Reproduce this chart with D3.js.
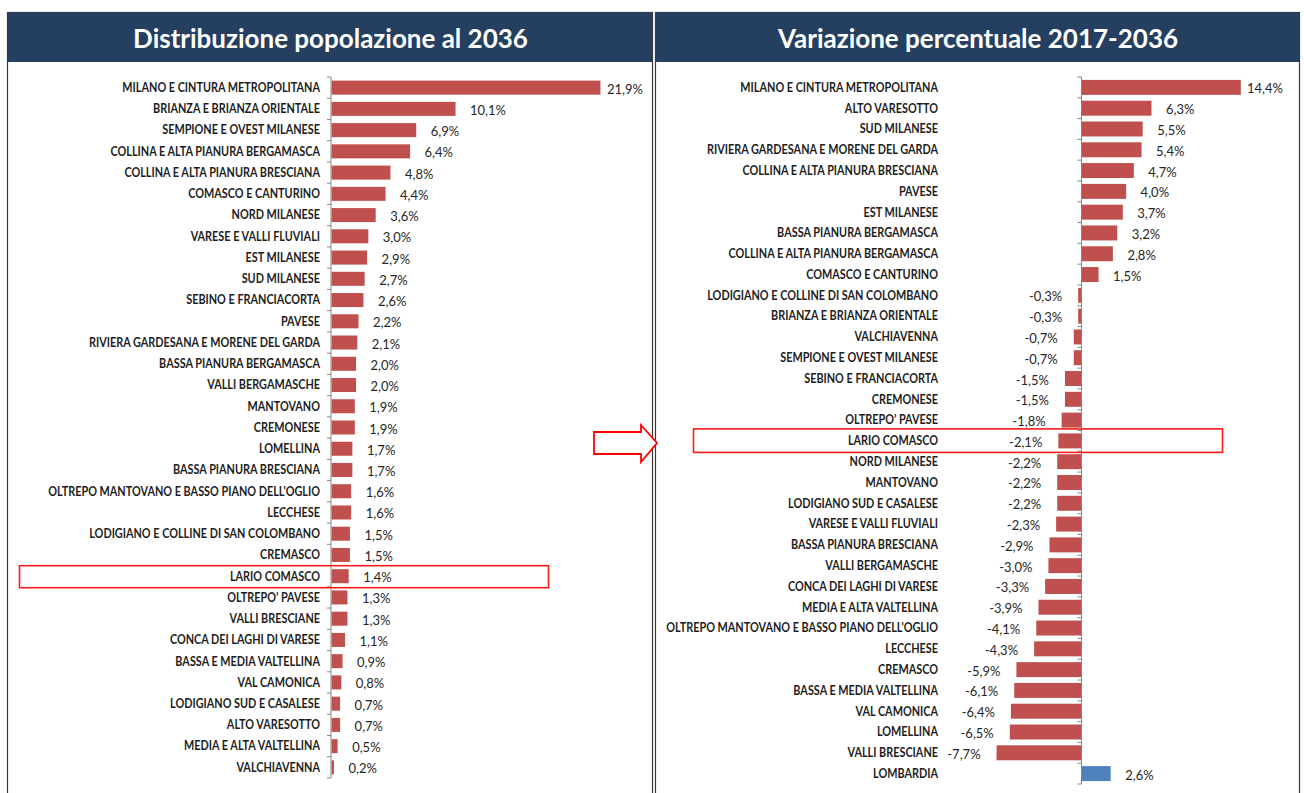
<!DOCTYPE html>
<html>
<head>
<meta charset="utf-8">
<script src="https://cdn.jsdelivr.net/npm/d3@7"></script>
<style>
  body { margin: 0; background: #fff; }
  svg { display: block; }
</style>
</head>
<body>
<svg id="chart" width="1304" height="793"></svg>
<script>
// ---- data -------------------------------------------------------------
const distTitle = "Distribuzione popolazione al 2036";
const varTitle = "Variazione percentuale 2017-2036";

const distCategories = [
  "MILANO E CINTURA METROPOLITANA", "BRIANZA E BRIANZA ORIENTALE", "SEMPIONE E OVEST MILANESE",
  "COLLINA E ALTA PIANURA BERGAMASCA", "COLLINA E ALTA PIANURA BRESCIANA", "COMASCO E CANTURINO",
  "NORD MILANESE", "VARESE E VALLI FLUVIALI", "EST MILANESE", "SUD MILANESE",
  "SEBINO E FRANCIACORTA", "PAVESE", "RIVIERA GARDESANA E MORENE DEL GARDA",
  "BASSA PIANURA BERGAMASCA", "VALLI BERGAMASCHE", "MANTOVANO", "CREMONESE", "LOMELLINA",
  "BASSA PIANURA BRESCIANA", "OLTREPO MANTOVANO E BASSO PIANO DELL'OGLIO", "LECCHESE",
  "LODIGIANO E COLLINE DI SAN COLOMBANO", "CREMASCO", "LARIO COMASCO", "OLTREPO\u2019 PAVESE",
  "VALLI BRESCIANE", "CONCA DEI LAGHI DI VARESE", "BASSA E MEDIA VALTELLINA", "VAL CAMONICA",
  "LODIGIANO SUD E CASALESE", "ALTO VARESOTTO", "MEDIA E ALTA VALTELLINA", "VALCHIAVENNA"
];
const distValues = [
  21.9, 10.1, 6.9, 6.4, 4.8, 4.4, 3.6, 3.0, 2.9, 2.7,
  2.6, 2.2, 2.1, 2.0, 2.0, 1.9, 1.9, 1.7, 1.7, 1.6,
  1.6, 1.5, 1.5, 1.4, 1.3, 1.3, 1.1, 0.9, 0.8, 0.7,
  0.7, 0.5, 0.2
];

const varCategories = [
  "MILANO E CINTURA METROPOLITANA", "ALTO VARESOTTO", "SUD MILANESE",
  "RIVIERA GARDESANA E MORENE DEL GARDA", "COLLINA E ALTA PIANURA BRESCIANA", "PAVESE",
  "EST MILANESE", "BASSA PIANURA BERGAMASCA", "COLLINA E ALTA PIANURA BERGAMASCA",
  "COMASCO E CANTURINO", "LODIGIANO E COLLINE DI SAN COLOMBANO", "BRIANZA E BRIANZA ORIENTALE",
  "VALCHIAVENNA", "SEMPIONE E OVEST MILANESE", "SEBINO E FRANCIACORTA", "CREMONESE",
  "OLTREPO\u2019 PAVESE", "LARIO COMASCO", "NORD MILANESE", "MANTOVANO",
  "LODIGIANO SUD E CASALESE", "VARESE E VALLI FLUVIALI", "BASSA PIANURA BRESCIANA",
  "VALLI BERGAMASCHE", "CONCA DEI LAGHI DI VARESE", "MEDIA E ALTA VALTELLINA",
  "OLTREPO MANTOVANO E BASSO PIANO DELL'OGLIO", "LECCHESE", "CREMASCO",
  "BASSA E MEDIA VALTELLINA", "VAL CAMONICA", "LOMELLINA", "VALLI BRESCIANE", "LOMBARDIA"
];
const varValues = [
  14.4, 6.3, 5.5, 5.4, 4.7, 4.0, 3.7, 3.2, 2.8, 1.5,
  -0.3, -0.3, -0.7, -0.7, -1.5, -1.5, -1.8, -2.1, -2.2, -2.2,
  -2.2, -2.3, -2.9, -3.0, -3.3, -3.9, -4.1, -4.3, -5.9, -6.1,
  -6.4, -6.5, -7.7, 2.6
];

const highlightCategory = "LARIO COMASCO";
const totalCategory = "LOMBARDIA";

// ---- styling ----------------------------------------------------------
const RED = "#c0504d";
const BLUE = "#4f81bd";
const NAVY = "#243f60";
const FONT = "Lato, 'Open Sans', 'Liberation Sans', sans-serif";

const it = d3.formatLocale({decimal: ",", thousands: ".", grouping: [3], currency: ["", "€"], minus: "-"});
const fmtPct = v => it.format(".1f")(v) + "%";

const svg = d3.select("#chart");

// font size that makes a reference string span a given width
function fitSize(text, weight, target) {
  const t = svg.append("text").attr("font-family", FONT).attr("font-weight", weight)
    .attr("font-size", 20).text(text);
  const w = t.node().getComputedTextLength();
  t.remove();
  return 20 * target / w;
}
// labels are set slightly taller, then narrowed back to their width
const CAT_STRETCH = 1.14;
const VAL_STRETCH = 1.1;
const catSize = fitSize("MILANO E CINTURA METROPOLITANA", 700, 198) * CAT_STRETCH;
const valSize = fitSize("10,1%", 400, 36) * VAL_STRETCH;
const titleSize = fitSize(distTitle, 700, 395);

function condense(sel, k) {
  sel.each(function () {
    const w = this.getComputedTextLength();
    d3.select(this).attr("textLength", w / k).attr("lengthAdjust", "spacingAndGlyphs");
  });
}

// ---- panels -----------------------------------------------------------
const panels = [
  {x0: 7, x1: 652, title: distTitle},
  {x0: 655, x1: 1299, title: varTitle}
];
panels.forEach(p => {
  svg.append("rect").attr("x", p.x0 + 0.5).attr("y", 12.5)
    .attr("width", p.x1 - p.x0).attr("height", 800)
    .attr("fill", "#fff").attr("stroke", "#3a3a3a").attr("stroke-width", 1.2);
  svg.append("rect").attr("x", p.x0 + 0.5).attr("y", 12.5)
    .attr("width", p.x1 - p.x0).attr("height", 49.5).attr("fill", NAVY);
  svg.append("text").attr("x", (p.x0 + p.x1) / 2 + 1).attr("y", 47.5)
    .attr("text-anchor", "middle").attr("font-family", FONT).attr("font-weight", 700)
    .attr("font-size", titleSize).attr("fill", "#fff").text(p.title);
});

// ---- left chart: distribution 2036 ------------------------------------
const xL = d3.scaleLinear().domain([0, 25]).range([331, 331 + 25 * 12.28]);
const yL = d3.scaleBand().domain(distCategories).range([77, 778]).paddingInner(0.34).paddingOuter(0.17);

// ---- right chart: percentage change -----------------------------------
const xR = d3.scaleLinear().domain([-10, 16]).range([1081.5 - 10 * 11.03, 1081.5 + 16 * 11.03]);
const yR = d3.scaleBand().domain(varCategories).range([77, 784]).paddingInner(0.28).paddingOuter(0.14);

function drawBars(g, cats, vals, x, y, opts) {
  const data = cats.map((c, i) => ({c, v: vals[i]}));
  const zero = x(0);

  g.selectAll("rect.bar").data(data).join("rect").attr("class", "bar")
    .attr("x", d => Math.min(x(d.v), zero) + (d.v >= 0 ? 0.5 : 0))
    .attr("y", d => y(d.c))
    .attr("width", d => Math.abs(x(d.v) - zero))
    .attr("height", y.bandwidth())
    .attr("fill", d => d.c === totalCategory ? BLUE : RED);

  // category axis: line with tick marks between categories
  const [r0, r1] = y.range();
  const step = y.step();
  g.append("line").attr("x1", zero).attr("x2", zero).attr("y1", r0).attr("y2", r1)
    .attr("stroke", "#868686").attr("stroke-width", 1);
  const n = cats.length;
  const off = y.paddingOuter() * step - (step - y.bandwidth()) / 2;
  g.selectAll("line.tick").data(d3.range(n + 1)).join("line").attr("class", "tick")
    .attr("x1", zero - 4).attr("x2", zero)
    .attr("y1", i => r0 + i * step + off).attr("y2", i => r0 + i * step + off)
    .attr("stroke", "#868686").attr("stroke-width", 1);

  // category labels
  g.selectAll("text.cat").data(data).join("text").attr("class", "cat")
    .attr("x", opts.labelX).attr("y", d => y(d.c) + y.bandwidth() / 2)
    .attr("dy", "0.35em").attr("text-anchor", "end")
    .attr("font-family", FONT).attr("font-weight", 700).attr("font-size", catSize)
    .attr("fill", "#1d1d1d").text(d => d.c)
    .call(condense, CAT_STRETCH);

  // value labels
  g.selectAll("text.val").data(data).join("text").attr("class", "val")
    .attr("y", d => y(d.c) + y.bandwidth() / 2 + 1)
    .attr("dy", "0.35em")
    .attr("font-family", FONT).attr("font-size", valSize).attr("fill", "#262626")
    .text(d => fmtPct(d.v))
    .call(condense, VAL_STRETCH)
    .each(function (d) {
      const w = this.getComputedTextLength();
      const t = d3.select(this);
      if (d.v >= 0) {
        const xs = Math.min(x(d.v) + 15, opts.valueMax - w);
        t.attr("x", xs).attr("text-anchor", "start");
      } else {
        t.attr("x", x(d.v) - 16).attr("text-anchor", "end");
      }
    });
}

drawBars(svg.append("g"), distCategories, distValues, xL, yL, {labelX: 320, valueMax: 643});
drawBars(svg.append("g"), varCategories, varValues, xR, yR, {labelX: 938, valueMax: 1283});

// ---- highlight boxes around the same area in both charts ---------------
const hlL = yL(highlightCategory) + yL.bandwidth() / 2;
const hlR = yR(highlightCategory) + yR.bandwidth() / 2;
svg.append("rect").attr("x", 19.5).attr("y", hlL - 10.5).attr("width", 529).attr("height", 22)
  .attr("fill", "none").attr("stroke", "#ff1a1a").attr("stroke-width", 1.6);
svg.append("rect").attr("x", 693.5).attr("y", hlR - 12).attr("width", 529).attr("height", 23.5)
  .attr("fill", "none").attr("stroke", "#ff1a1a").attr("stroke-width", 1.6);

// ---- hollow arrow linking the two panels ------------------------------
const ay = 443;
svg.append("polygon")
  .attr("points", [
    [594, ay - 11], [641, ay - 11], [641, ay - 18], [657, ay],
    [641, ay + 19], [641, ay + 11], [594, ay + 11]
  ].map(p => p.join(",")).join(" "))
  .attr("fill", "#fff").attr("stroke", "#ff0000").attr("stroke-width", 1.8);
</script>
</body>
</html>
